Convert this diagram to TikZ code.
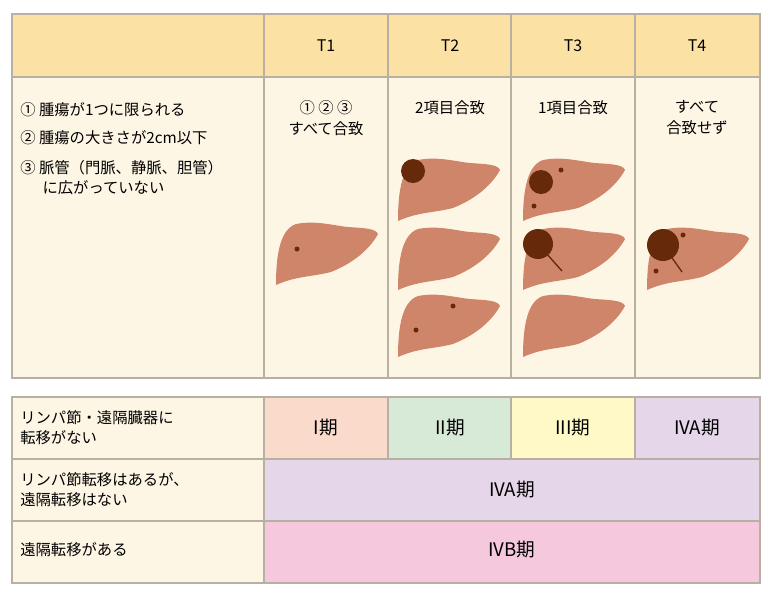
\documentclass[tikz,border=0pt]{standalone}
\usepackage{fontspec}
\setmainfont{Noto Sans CJK JP}
\definecolor{hdr}{HTML}{FBE2A4}
\definecolor{body}{HTML}{FEF6E4}
\definecolor{grid}{HTML}{B8B0A2}
\definecolor{liver}{HTML}{CF856A}
\definecolor{tumor}{HTML}{66290A}
\definecolor{stI}{HTML}{F9DACB}
\definecolor{stII}{HTML}{D7EAD7}
\definecolor{stIII}{HTML}{FEF9C6}
\definecolor{stIVA}{HTML}{E5D6E9}
\definecolor{stIVB}{HTML}{F6C8DE}
\tikzset{
  cell/.style={draw=grid, line width=0.8pt},
  txt/.style={font=\fontsize{11.5}{15}\selectfont, align=left, anchor=west, inner sep=0pt},
  ctxt/.style={font=\fontsize{11.5}{16}\selectfont, align=center, anchor=north, inner sep=0pt},
  stage/.style={font=\fontsize{14}{16}\selectfont, inner sep=0pt},
  head/.style={font=\fontsize{12}{14}\selectfont, inner sep=0pt},
  liver/.pic={\fill[liver] (0,63) .. controls (0,40) and (2,8) .. (20,2)
      .. controls (40,-2) and (60,4) .. (72,5) .. controls (85,6) and (100,6) .. (102,12)
      .. controls (95,25) and (80,40) .. (55,50) .. controls (35,55) and (20,54) .. (0,63) -- cycle;},
}
\begin{document}
\begin{tikzpicture}[x=0.75pt, y=-0.75pt]
\useasboundingbox (0,0) rectangle (777,608);
% top table
\fill[hdr] (12,14) rectangle (760,77);
\fill[body] (12,77) rectangle (760,378);
\foreach \xa in {264,388,511,635} \draw[cell] (\xa,14) -- (\xa,378);
\draw[cell] (12,77) -- (760,77);
\draw[cell] (12,14) rectangle (760,378);
\node[head] (t1) at (326,46) {T1};
\node[head] (t2) at (450,46) {T2};
\node[head] (t3) at (573,46) {T3};
\node[head] (t4) at (697,46) {T4};
\node[txt] (c1) at (20,110) {① 腫瘍が1つに限られる};
\node[txt] (c2) at (20,138) {② 腫瘍の大きさが2cm以下};
\node[txt, align=left] (c3) at (20,178) {③ 脈管（門脈、静脈、胆管）\\\hspace*{1.45em}に広がっていない};
\node[ctxt] (m1) at (326,100) {① ② ③\\すべて合致};
\node[ctxt] (m2) at (450,100) {2項目合致};
\node[ctxt] (m3) at (573,100) {1項目合致};
\node[ctxt] (m4) at (697,100) {すべて\\合致せず};
% livers
\pic at (276,222) {liver};
\fill[tumor] (297,249) circle (2.5);
\begin{scope}[shift={(398,158)}]
  \pic {liver}; \fill[tumor] (15,13) circle (12);
\end{scope}
\pic at (398,227) {liver};
\begin{scope}[shift={(398,294)}]
  \pic {liver}; \fill[tumor] (55,12) circle (2.5); \fill[tumor] (18,36) circle (2.5);
\end{scope}
\begin{scope}[shift={(523,158)}]
  \pic {liver}; \fill[tumor] (18,24) circle (12);
  \fill[tumor] (38,12) circle (2.5); \fill[tumor] (11,48) circle (2.5);
\end{scope}
\begin{scope}[shift={(523,227)}]
  \pic {liver}; \draw[tumor, line width=1pt] (15,17) -- (39,44); \fill[tumor] (15,17) circle (15);
\end{scope}
\pic at (523,294) {liver};
\begin{scope}[shift={(647,227)}]
  \pic {liver}; \draw[tumor, line width=1pt] (16,18) -- (35,45); \fill[tumor] (16,18) circle (16);
  \fill[tumor] (36,8) circle (2.5); \fill[tumor] (9,44) circle (2.5);
\end{scope}
% bottom table
\fill[body] (12,397) rectangle (264,583);
\fill[stI] (264,397) rectangle (388,459);
\fill[stII] (388,397) rectangle (511,459);
\fill[stIII] (511,397) rectangle (635,459);
\fill[stIVA] (635,397) rectangle (760,459);
\fill[stIVA] (264,459) rectangle (760,521);
\fill[stIVB] (264,521) rectangle (760,583);
\foreach \xa in {388,511,635} \draw[cell] (\xa,397) -- (\xa,459);
\draw[cell] (264,397) -- (264,583);
\draw[cell] (12,459) -- (760,459);
\draw[cell] (12,521) -- (760,521);
\draw[cell] (12,397) rectangle (760,583);
\node[txt] (r1) at (20,428) {リンパ節・遠隔臓器に\\転移がない};
\node[txt] (r2) at (20,490) {リンパ節転移はあるが、\\遠隔転移はない};
\node[txt] (r3) at (20,550) {遠隔転移がある};
\node[stage] (s1) at (326,428) {I期};
\node[stage] (s2) at (450,428) {II期};
\node[stage] (s3) at (573,428) {III期};
\node[stage] (s4) at (697,428) {IVA期};
\node[stage] (s5) at (512,490) {IVA期};
\node[stage] (s6) at (512,550) {IVB期};
\end{tikzpicture}
\end{document}
